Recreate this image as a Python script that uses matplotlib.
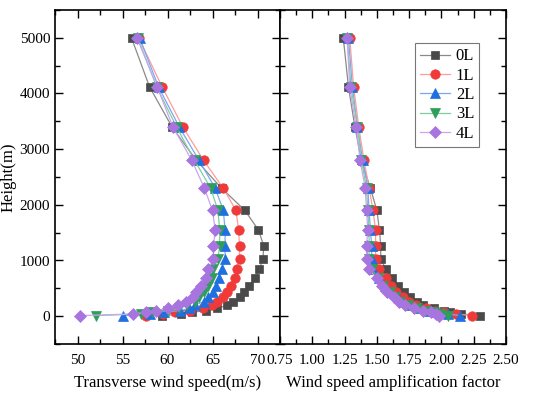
import matplotlib
matplotlib.use("Agg")
import matplotlib.pyplot as plt
from matplotlib.ticker import MultipleLocator

plt.rcParams['font.family'] = ['Liberation Serif', 'DejaVu Serif']

heights = [5000, 4120, 3400, 2800, 2300, 1900, 1550, 1260, 1030, 840, 680,
           540, 430, 340, 260, 195, 140, 100, 70, 40, 10]

series_names = ["0L", "1L", "2L", "3L", "4L"]

speed_0L = [56.0, 58.0, 60.5, 63.2, 66.0, 68.6, 70.1, 70.7, 70.6, 70.2, 69.7,
            69.1, 68.5, 68.0, 67.3, 66.6, 65.5, 64.3, 62.7, 61.5, 59.4]
speed_1L = [56.8, 59.4, 61.7, 64.0, 66.2, 67.6, 67.9, 68.0, 68.0, 67.7, 67.5,
            67.0, 66.6, 66.2, 65.5, 64.9, 63.9, 62.5, 60.8, 59.5, 57.6]
speed_2L = [56.9, 59.0, 61.3, 63.5, 65.3, 66.2, 66.4, 66.4, 66.4, 66.0, 65.7,
            65.4, 65.0, 64.5, 64.0, 63.0, 62.4, 61.4, 59.6, 58.0, 55.0]
speed_3L = [56.7, 58.8, 61.0, 63.0, 64.8, 65.6, 65.8, 65.8, 65.6, 65.1, 64.9,
            64.5, 64.0, 63.5, 63.0, 62.2, 61.3, 60.0, 58.3, 57.0, 52.0]
speed_4L = [56.6, 58.85, 60.6, 62.7, 64.1, 65.0, 65.3, 65.1, 65.1, 64.5, 64.3,
            63.7, 63.2, 62.8, 62.1, 61.2, 60.1, 58.7, 57.6, 56.2, 50.3]

amp_0L = [1.24, 1.28, 1.33, 1.38, 1.45, 1.50, 1.52, 1.53, 1.53, 1.57, 1.62,
          1.66, 1.71, 1.76, 1.81, 1.86, 1.94, 2.02, 2.07, 2.15, 2.30]
amp_1L = [1.29, 1.32, 1.36, 1.40, 1.44, 1.47, 1.49, 1.49, 1.49, 1.52, 1.57,
          1.61, 1.65, 1.70, 1.75, 1.80, 1.88, 1.95, 2.02, 2.11, 2.24]
amp_2L = [1.28, 1.31, 1.35, 1.39, 1.43, 1.44, 1.45, 1.46, 1.46, 1.47, 1.52,
          1.56, 1.61, 1.66, 1.70, 1.75, 1.82, 1.90, 1.96, 2.05, 2.14]
amp_3L = [1.27, 1.30, 1.35, 1.38, 1.42, 1.43, 1.44, 1.44, 1.44, 1.46, 1.51,
          1.55, 1.60, 1.64, 1.68, 1.74, 1.81, 1.88, 1.94, 2.00, 2.05]
amp_4L = [1.27, 1.29, 1.34, 1.37, 1.41, 1.42, 1.43, 1.42, 1.42, 1.44, 1.50,
          1.54, 1.58, 1.63, 1.67, 1.72, 1.79, 1.86, 1.92, 1.96, 1.98]

amp_ticks = [0.75, 1.0, 1.25, 1.5, 1.75, 2.0, 2.25, 2.5]
amp_ticklabels = ["0.75", "1.00", "1.25", "1.50", "1.75", "2.00", "2.25", "2.50"]

speeds = [speed_0L, speed_1L, speed_2L, speed_3L, speed_4L]
amps = [amp_0L, amp_1L, amp_2L, amp_3L, amp_4L]

marker_colors = ["#4a4a4a", "#f03a3a", "#1f6fe0", "#2e9e5b", "#a874e0"]
line_colors = ["#8a8a8a", "#ff9c9c", "#7aa8f0", "#7fcf9f", "#c9a6ef"]
markers = ["s", "o", "^", "v", "D"]
msizes = [6.2, 6.8, 7.0, 7.0, 6.0]

fig = plt.figure(figsize=(5.5, 3.93), dpi=100)
ax1 = fig.add_axes([55/550, 49/393, 225/550, 334/393])
ax2 = fig.add_axes([280/550, 49/393, 226/550, 334/393], sharey=ax1)

for i in range(5):
    kw = dict(color=line_colors[i], lw=0.9, marker=markers[i], ms=msizes[i],
              mfc=marker_colors[i], mec=marker_colors[i], mew=0.5)
    ax1.plot(speeds[i], heights, **kw)
    ax2.plot(amps[i], heights, label=series_names[i], **kw)

ax1.set_xlim(47.5, 72.5)
ax1.set_ylim(-500, 5500)
ax1.xaxis.set_major_locator(MultipleLocator(5))
ax1.xaxis.set_minor_locator(MultipleLocator(2.5))
ax1.yaxis.set_major_locator(MultipleLocator(1000))
ax1.yaxis.set_minor_locator(MultipleLocator(500))

ax2.set_xlim(0.75, 2.5)
ax2.xaxis.set_minor_locator(MultipleLocator(0.125))
ax2.set_xticks(amp_ticks)
ax2.set_xticklabels(amp_ticklabels)

for ax in (ax1, ax2):
    for s in ax.spines.values():
        s.set_linewidth(1.2)
    ax.tick_params(which='both', direction='in', top=True, left=True, right=True,
                   labelsize=11, width=1.0)
    ax.tick_params(axis='x', which='both', pad=7)
    ax.tick_params(which='major', length=6)
    ax.tick_params(which='minor', length=3.5)

ax2.tick_params(axis='y', which='both', labelleft=False)

ax1.set_xlabel("Transverse wind speed(m/s)", fontsize=12, labelpad=6)
ax2.set_xlabel("Wind speed amplification factor", fontsize=12, labelpad=6)
ax1.set_ylabel("Height(m)", fontsize=12)
ax1.yaxis.set_label_coords(-0.17, 0.5)

leg = ax2.legend(loc='upper left', bbox_to_anchor=(0.597, 0.9), fontsize=12,
                 frameon=True, fancybox=False, edgecolor='#555555',
                 handlelength=1.8, borderpad=0.3, labelspacing=0.2,
                 handletextpad=0.35, borderaxespad=0.0)
leg.get_frame().set_linewidth(0.8)

fig.savefig("out.png", dpi=100)
